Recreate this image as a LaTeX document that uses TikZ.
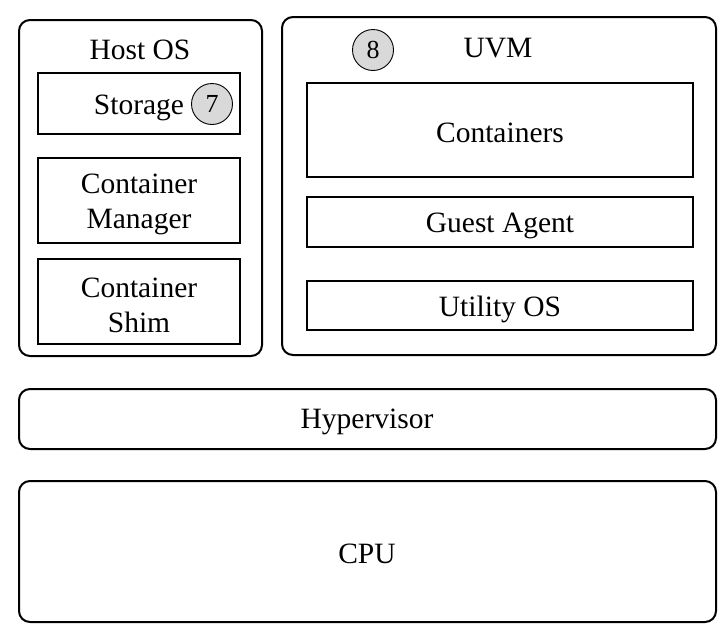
\documentclass[tikz,border=0pt]{standalone}
\usepackage{fontspec}
\setmainfont{Liberation Serif}
\begin{document}
\begin{tikzpicture}[x=1pt,y=-1pt,
  outerbox/.style={draw,line width=2pt,rounded corners=11pt},
  innerbox/.style={draw,line width=2pt},
  badge/.style={circle,draw,line width=0.9pt,fill=black!15,minimum size=41pt,inner sep=0pt,font=\fontsize{26}{28}\selectfont},
  lbl/.style={font=\fontsize{29.5}{35}\selectfont,align=center,inner sep=0pt}]
\useasboundingbox (0,0) rectangle (726,643);
% outer containers
\draw[outerbox] (19,20) rectangle (262,356);
\draw[outerbox] (282,17) rectangle (716,355);
\draw[outerbox] (19,389) rectangle (716,449);
\draw[outerbox] (19,481) rectangle (716,622);
\node[lbl] (host) at (140,50) {Host OS};
\node[lbl] (uvm) at (498,48) {UVM};
\node[lbl] (hyp) at (367,422) {Hypervisor};
\node[lbl] (cpu) at (367,554) {CPU};
% host inner
\draw[innerbox] (38,73) rectangle (240,134);
\node[lbl] (storage) at (139,108) {Storage};
\node[badge] (b7) at (212,104) {7};
\draw[innerbox] (38,158) rectangle (240,243);
\node[lbl] (cm) at (139,204) {Container\\Manager};
\draw[innerbox] (38,259) rectangle (240,344);
\node[lbl] (cs) at (139,305) {Container\\Shim};
% uvm inner
\node[badge] (b8) at (373,50) {8};
\draw[innerbox] (307,83) rectangle (693,177);
\node[lbl] (cont) at (500,133) {Containers};
\draw[innerbox] (307,197) rectangle (693,247);
\node[lbl] (ga) at (500,226) {Guest Agent};
\draw[innerbox] (307,281) rectangle (693,330);
\node[lbl] (uos) at (500,309) {Utility OS};
\end{tikzpicture}
\end{document}
